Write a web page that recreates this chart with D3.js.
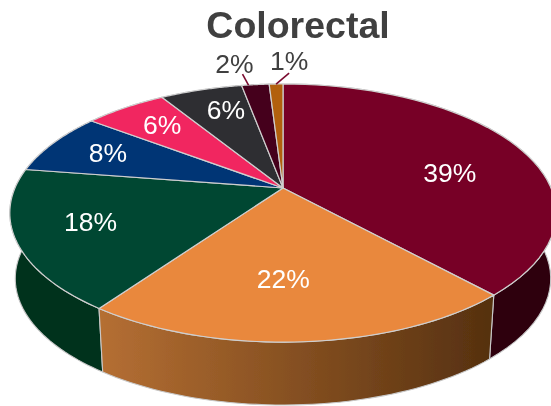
<!DOCTYPE html>
<html>
<head>
<meta charset="utf-8">
<style>html,body{margin:0;padding:0;background:#fff}svg{display:block}text{font-family:"Liberation Sans",Arial,sans-serif}</style>
<script src="https://cdnjs.cloudflare.com/ajax/libs/d3/7.8.5/d3.min.js"></script>
</head>
<body>
<script>
const title = "Colorectal";
const values = [39, 22, 18, 8, 6, 6, 2, 1];
const topColors = ["#770525", "#e9883e", "#004631", "#023474", "#f12660", "#2d2d33", "#45001a", "#b2600f"];
const wallStops = [["#2e000e","#2e000e"], ["#b56f33","#55300f"], ["#03331f","#03331f"], ["#011a3a","#011a3a"], ["#791330","#791330"], ["#161619","#161619"], ["#22000d","#22000d"], ["#593008","#593008"]];
const labelOffsets = [[0,15],[-13,-10],[-10,-2],[-11,-3],[-6,-5],[3,-6],[-21,-21],[13,-23]];
const leaderEnds = [null,null,null,null,null,null,[-6,-11],[13,-11]];
const leaderAnchor = [0,0,0,0,0,0,0.25,0.5];

const W = 551, H = 406;
const geo = {cx:283, cy:188, A:268, B:124.2, k:0.194, drop:66, shrink:0.98, labelR:0.7};

// Perspective projection of a point on the pie disc (r in 0..1, clockwise from 12 o'clock)
function project(theta, r, lower) {
  const u = Math.sin(theta) * r, v = Math.cos(theta) * r, w = 1 + geo.k * v;
  const s = lower ? geo.shrink : 1;
  return [geo.cx + s * geo.A * u / w, geo.cy + (lower ? geo.drop : 0) - s * geo.B * v / w];
}

const svg = d3.select("body").append("svg").attr("width", W).attr("height", H);
const defs = svg.append("defs");
const soft = defs.append("filter").attr("id","soft").attr("x","-5%").attr("y","-5%").attr("width","110%").attr("height","110%");
soft.append("feGaussianBlur").attr("stdDeviation",0.45);
const softText = defs.append("filter").attr("id","softText").attr("x","-5%").attr("y","-5%").attr("width","110%").attr("height","110%");
softText.append("feGaussianBlur").attr("stdDeviation",0.3);

const arcs = d3.pie().sort(null).value(d => d)(values);
const line = d3.line().curve(d3.curveLinear);
const rim = (a, b) => d3.range(0, 49).map(i => a + (b - a) * i / 48);

arcs.forEach((d, i) => {
  const g = defs.append("linearGradient").attr("id", "wall" + i);
  g.append("stop").attr("offset", 0).attr("stop-color", wallStops[i][0]);
  g.append("stop").attr("offset", 1).attr("stop-color", wallStops[i][1]);
});

const pie = svg.append("g").attr("filter", "url(#soft)");

// walls, back slices first
const order = arcs.map((d, i) => i).sort((a, b) =>
  Math.cos((arcs[b].startAngle + arcs[b].endAngle) / 2) - Math.cos((arcs[a].startAngle + arcs[a].endAngle) / 2));
pie.selectAll("path.wall").data(order).join("path").attr("class", "wall")
  .attr("d", i => {
    const t = rim(arcs[i].startAngle, arcs[i].endAngle);
    return line([...t.map(a => project(a, 1, false)), ...t.slice().reverse().map(a => project(a, 1, true))]) + "Z";
  })
  .attr("fill", i => `url(#wall${i})`)
  .attr("stroke", "#c8c8c8").attr("stroke-width", 1.1).attr("stroke-linejoin", "round");

// top face
pie.selectAll("path.top").data(arcs).join("path").attr("class", "top")
  .attr("d", d => line([[geo.cx, geo.cy], ...rim(d.startAngle, d.endAngle).map(a => project(a, 1, false))]) + "Z")
  .attr("fill", (d, i) => topColors[i])
  .attr("stroke", "#cfcfcf").attr("stroke-width", 1.2).attr("stroke-linejoin", "round");

// labels
const outside = v => v <= 2;
const mid = d => (d.startAngle + d.endAngle) / 2;
const labels = svg.append("g").attr("font-size", 26.5).attr("text-anchor", "middle").attr("filter", "url(#softText)");
arcs.forEach((d, i) => {
  const m = mid(d);
  const o = labelOffsets[i];
  let p, fill = "#fff";
  if (outside(d.value)) {
    p = project(d.startAngle + (d.endAngle - d.startAngle) * leaderAnchor[i], 1, false);
    p = [p[0], p[1]];
    fill = "#404040";
    svg.append("path").attr("d", line([p, [p[0] + leaderEnds[i][0], p[1] + leaderEnds[i][1]]]))
      .attr("stroke", "#7a0a2f").attr("stroke-width", 1.6).attr("fill", "none");
    const c = project(m, 1, false);
    p = c;
  } else {
    p = project(m, geo.labelR, false);
  }
  labels.append("text").attr("x", p[0] + o[0]).attr("y", p[1] + o[1]).attr("dy", "0.35em").attr("fill", fill).text(d.value + "%");
});

svg.append("text").attr("x", 298).attr("y", 38).attr("text-anchor", "middle").attr("filter", "url(#softText)")
  .attr("font-size", 37.5).attr("font-weight", "bold").attr("fill", "#404040").text(title);
</script>
</body>
</html>
